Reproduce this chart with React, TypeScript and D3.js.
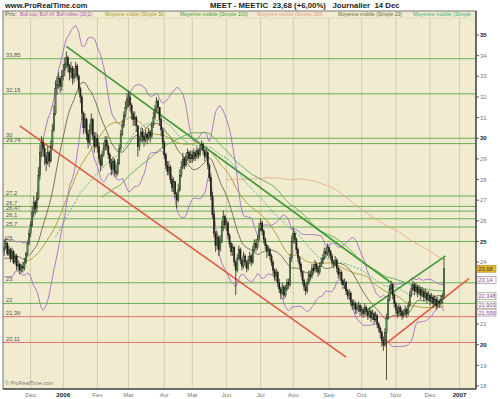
import React from 'react';
import * as d3 from 'd3';

// MEET - MEETIC, daily, 8 Nov 2005 -> 14 Dec 2006 (open = previous close)
// closes before the visible window, only used for the indicators
const historyCloses = [
  23.2, 23.5, 23.9, 24.3, 24.0, 23.6, 23.4, 23.8, 24.2, 24.6, 24.4, 24.1,
  23.7, 23.3, 23.0, 23.4, 23.8, 24.2, 24.5, 24.8, 24.4, 24.0, 23.6, 23.3,
  23.6, 24.0, 24.3, 24.7, 24.4, 24.1, 23.8, 23.5, 23.9, 24.3, 24.6, 24.5,
];

const closes = [
  24.7, 24.9, 24.4, 24.6, 24.2, 24.5, 24.0, 24.3, 23.8, 23.9, 23.6, 23.8, 23.7, 24.0, 24.4, 24.9, 25.4, // nov
  25.8, 26.4, 26.9, 26.6, 27.1, 28.2, 29.3, 29.8, 29.5, 29.1, 28.8, 29.3, 28.9, 29.6, 30.4, 31.2, 32.4, 32.6, 32.9, 32.5, 33.0, // dec
  33.3, 33.6, 33.9, 33.5, 33.2, 33.4, 32.9, 33.1, 33.5, 33.0, 32.4, 32.0, 31.2, 30.5, 30.9, 30.2, 29.8, 30.4, 30.9, 30.1, 29.6, 30.0, // jan
  29.6, 29.0, 28.7, 29.2, 29.5, 29.9, 29.6, 29.2, 28.8, 28.5, 28.9, 28.4, 28.3, 28.8, 29.5, 30.2, 30.6, 31.1, 31.5, 31.9, // feb
  32.0, 31.6, 31.2, 30.9, 31.0, 30.6, 29.6, 29.9, 30.3, 30.1, 29.9, 30.2, 30.0, 30.3, 30.1, 30.6, 31.0, 31.4, 31.8, 31.5, 30.9, 30.4, 29.8, // mar
  29.2, 28.7, 28.4, 28.6, 28.0, 27.6, 27.9, 27.3, 27.0, 27.5, 28.2, 28.6, 29.0, 28.7, 29.1, 29.3, 29.0, 29.2, // apr
  29.0, 29.3, 29.1, 29.4, 29.2, 29.5, 29.7, 29.4, 29.1, 29.3, 28.7, 28.1, 27.2, 26.3, 25.4, 24.8, 25.2, 24.6, 25.0, 25.7, 26.2, 25.8, // may
  25.9, 25.3, 24.9, 24.5, 24.7, 24.0, 23.6, 24.2, 24.6, 24.1, 23.8, 24.3, 24.0, 23.7, 24.1, 24.3, 24.0, 24.6, 24.9, 24.7, 25.1, 25.6, // jun
  25.9, 25.5, 25.1, 24.8, 24.5, 24.6, 24.3, 24.0, 23.6, 23.3, 23.5, 23.0, 22.7, 22.5, 22.8, 22.4, 22.7, 23.0, 22.9, 24.2, 25.0, // jul
  25.4, 25.1, 24.6, 24.2, 23.9, 23.5, 23.1, 22.8, 22.6, 23.0, 23.4, 23.3, 23.7, 23.6, 23.9, 23.7, 23.5, 23.8, 24.0, 24.2, 24.5, 24.4, 24.7, // aug
  24.5, 24.3, 24.0, 23.9, 24.1, 23.7, 23.4, 23.5, 23.1, 22.9, 23.0, 22.6, 22.4, 22.5, 22.1, 21.9, 22.0, 21.7, 21.8, 21.9, 21.6, // sep
  21.7, 21.5, 21.8, 21.6, 21.4, 21.6, 21.3, 21.5, 21.2, 21.4, 21.0, 20.8, 20.6, 20.2, 20.0, 20.6, 21.3, 22.2, 22.7, 22.9, 22.4, 22.0, // oct
  21.7, 21.5, 21.8, 21.6, 21.4, 21.5, 21.7, 21.5, 21.9, 22.4, 22.7, 22.9, 22.6, 22.8, 22.5, 22.7, 22.4, 22.6, 22.3, 22.5, 22.2, 22.4, // nov
  22.1, 22.3, 22.0, 22.2, 21.9, 22.1, 22.0, 22.2, 22.34, 23.68, // dec
];

const highs = [
  25.1, 25.2, 25.0, 24.8, 24.7, 24.7, 24.6, 24.4, 24.4, 24.1, 24.0, 23.9, 24.0, 24.2, 24.5, 25.0, 25.6,
  26.0, 26.7, 27.2, 27.0, 27.4, 28.6, 29.7, 30.1, 30.0, 29.7, 29.3, 29.6, 29.4, 29.9, 30.7, 31.6, 32.8, 33.0, 33.2, 33.0, 33.3,
  33.6, 33.9, 34.2, 34.0, 33.6, 33.7, 33.5, 33.4, 33.7, 33.6, 33.1, 32.5, 32.1, 31.3, 31.2, 31.0, 30.4, 30.7, 31.2, 31.0, 30.3, 30.3,
  30.2, 29.8, 29.2, 29.4, 29.8, 30.1, 30.1, 29.7, 29.3, 29.0, 29.1, 29.0, 28.7, 29.0, 29.7, 30.4, 30.9, 31.3, 31.8, 32.2,
  32.3, 32.2, 31.7, 31.3, 31.3, 31.1, 30.6, 30.1, 30.5, 30.5, 30.3, 30.4, 30.3, 30.5, 30.4, 30.8, 31.3, 31.6, 32.0, 31.9, 31.5, 31.0, 30.5,
  29.9, 29.3, 28.9, 28.9, 28.7, 28.2, 28.1, 27.9, 27.4, 27.8, 28.5, 28.9, 29.3, 29.1, 29.3, 29.5, 29.4, 29.4,
  29.4, 29.5, 29.4, 29.6, 29.5, 29.7, 29.9, 29.8, 29.5, 29.5, 29.4, 28.8, 28.3, 27.4, 26.5, 25.5, 25.5, 25.3, 25.3, 26.0, 26.5, 26.3,
  26.1, 26.0, 25.4, 25.0, 24.9, 24.8, 24.1, 24.4, 24.8, 24.7, 24.2, 24.5, 24.4, 24.1, 24.3, 24.5, 24.4, 24.8, 25.1, 25.1, 25.3, 25.9,
  26.1, 26.0, 25.6, 25.2, 24.9, 24.8, 24.7, 24.4, 24.1, 23.7, 23.7, 23.6, 23.2, 22.8, 23.0, 22.9, 22.9, 23.2, 23.2, 24.4, 25.3,
  25.7, 25.5, 25.2, 24.7, 24.3, 24.0, 23.6, 23.2, 23.0, 23.2, 23.6, 23.6, 23.9, 23.9, 24.1, 24.0, 23.8, 24.0, 24.2, 24.4, 24.7, 24.7, 24.9,
  24.8, 24.6, 24.4, 24.1, 24.3, 24.2, 23.8, 23.7, 23.6, 23.2, 23.2, 23.1, 22.7, 22.7, 22.6, 22.2, 22.2, 22.1, 22.0, 22.1, 22.0,
  21.9, 21.8, 22.0, 21.9, 21.7, 21.8, 21.7, 21.7, 21.6, 21.6, 21.5, 21.1, 20.9, 20.7, 20.4, 20.8, 21.5, 22.4, 22.9, 23.1, 23.0, 22.5,
  22.1, 21.9, 22.0, 21.9, 21.7, 21.7, 21.9, 21.8, 22.1, 22.6, 22.9, 23.1, 23.0, 23.0, 22.9, 22.9, 22.8, 22.8, 22.7, 22.7, 22.6, 22.6,
  22.5, 22.5, 22.4, 22.4, 22.3, 22.3, 22.2, 22.4, 22.5, 24.2,
];

const lows = [
  24.3, 24.6, 24.3, 24.3, 24.0, 24.1, 23.9, 23.9, 23.6, 23.6, 23.4, 23.5, 23.5, 23.6, 23.9, 24.3, 24.8,
  25.2, 25.7, 26.2, 26.3, 26.4, 27.0, 28.0, 29.1, 29.1, 28.7, 28.4, 28.7, 28.6, 28.8, 29.5, 30.3, 31.1, 32.1, 32.4, 32.2, 32.3,
  32.8, 33.0, 33.4, 33.2, 32.8, 32.9, 32.6, 32.7, 32.9, 32.8, 32.2, 31.7, 30.9, 30.2, 30.3, 29.9, 29.5, 29.7, 30.2, 29.9, 29.3, 29.5,
  29.3, 28.8, 28.4, 28.6, 29.1, 29.4, 29.4, 29.0, 28.6, 28.2, 28.3, 28.2, 28.1, 28.2, 28.7, 29.4, 30.1, 30.5, 31.0, 31.4,
  31.5, 31.3, 30.9, 30.6, 30.6, 30.3, 29.1, 29.4, 29.8, 29.8, 29.6, 29.8, 29.7, 29.9, 29.8, 30.0, 30.5, 30.9, 31.3, 31.2, 30.6, 30.1, 29.5,
  29.0, 28.5, 28.2, 28.2, 27.8, 27.4, 27.4, 27.1, 26.6, 26.9, 27.4, 28.1, 28.5, 28.5, 28.6, 28.9, 28.8, 28.8,
  28.8, 28.9, 28.9, 29.0, 29.0, 29.1, 29.4, 29.2, 28.9, 29.0, 28.5, 27.9, 27.0, 26.1, 25.2, 24.5, 24.6, 24.3, 24.5, 24.9, 25.5, 25.6,
  25.5, 25.1, 24.7, 24.3, 24.3, 23.8, 22.4, 23.5, 24.1, 23.9, 23.6, 23.7, 23.8, 23.5, 23.6, 23.9, 23.8, 23.9, 24.5, 24.5, 24.6, 25.0,
  25.5, 25.3, 24.9, 24.6, 24.2, 24.3, 24.1, 23.8, 23.4, 23.1, 23.1, 22.8, 22.5, 22.2, 22.4, 22.2, 22.3, 22.6, 22.7, 22.8, 24.0,
  24.9, 24.9, 24.4, 24.0, 23.7, 23.3, 22.9, 22.6, 22.4, 22.5, 22.9, 23.1, 23.2, 23.4, 23.5, 23.5, 23.3, 23.4, 23.8, 23.9, 24.1, 24.2, 24.3,
  24.2, 24.1, 23.8, 23.7, 23.8, 23.5, 23.2, 23.2, 22.9, 22.7, 22.7, 22.4, 22.2, 22.2, 21.9, 21.7, 21.7, 21.5, 21.5, 21.6, 21.4,
  21.4, 21.3, 21.4, 21.4, 21.2, 21.3, 21.1, 21.2, 21.0, 21.1, 20.8, 20.6, 20.3, 19.9, 19.7, 19.9, 18.3, 21.2, 22.1, 22.5, 22.2, 21.8,
  21.5, 21.3, 21.4, 21.4, 21.2, 21.3, 21.4, 21.3, 21.4, 21.8, 22.3, 22.6, 22.4, 22.5, 22.3, 22.4, 22.2, 22.3, 22.1, 22.2, 22.0, 22.1,
  21.9, 22.0, 21.8, 21.9, 21.7, 21.8, 21.8, 21.9, 22.0, 22.2,
];

const holidays = ['2005-12-26', '2006-04-14', '2006-04-17', '2006-05-01', '2006-12-25', '2006-12-26', '2007-01-01'];
const monthLabels = ['Jan', 'Fev', 'Mar', 'Avr', 'Mai', 'Jun', 'Jul', 'Aou', 'Sep', 'Oct', 'Nov', 'Dec'];

const greenLevels = [33.85, 32.15, 30, 29.74, 27.2, 26.7, 26.47, 26.1, 25.7, 25, 23, 22];
const redLevels = [21.36, 20.11];

// trend lines: [date, price] -> [date, price]
const greenTrends = [
  [['2006-01-04', 34.45], ['2006-10-27', 23.0]],
  [['2006-10-05', 21.65], ['2006-12-15', 24.3]],
];
const redTrends = [
  [['2005-11-22', 30.6], ['2006-09-18', 19.4]],
  [['2006-10-20', 19.95], ['2007-01-10', 23.2]],
];

const priceTags = [
  { value: 23.68, text: '23,68', fill: '#e8b830', stroke: '#b08a20', color: '#333' },
  { value: 23.14, text: '23,14', fill: '#fbf8ee', stroke: '#9a70b0', color: '#8a50a8' },
  { value: 22.348, text: '22,348', fill: '#fbf8ee', stroke: '#8a9a70', color: '#8a50a8' },
  { value: 21.903, text: '21,903', fill: '#fbf8ee', stroke: '#7aa070', color: '#8a50a8' },
  { value: 21.556, text: '21,556', fill: '#fbf8ee', stroke: '#9a70b0', color: '#8a50a8' },
];

const legendItems = [
  { text: 'Prix:', color: '#555' },
  { text: 'Boll sup: Boll inf: Boll milieu (20;2)', color: '#b050b0' },
  { text: 'Moyenne mobile (Simple 50)', color: '#a89a30' },
  { text: 'Moyenne mobile (Simple 100)', color: '#40a040' },
  { text: 'Moyenne mobile (Simple 180)', color: '#e89a80' },
  { text: 'Moyenne mobile (Simple 20)', color: '#6a6a3a' },
  { text: 'Moyenne mobile (Simple', color: '#40b088' },
];
// legend layout: start x and drawn width of each entry
const legendX = [5, 20, 105, 180, 257, 338, 413];
const legendW = [12, 72, 60, 68, 66, 64, 58];

const fmt = (v: number) => String(v).replace('.', ',');

function tradingDays(from: Date, to: Date) {
  const off = new Set(holidays);
  return d3.timeDay.range(from, to).filter(d => {
    const wd = d.getDay();
    return wd !== 0 && wd !== 6 && !off.has(d3.timeFormat('%Y-%m-%d')(d));
  });
}

function sma(values: number[], n: number) {
  return values.map((_, i) => (i < n - 1 ? null : d3.mean(values.slice(i - n + 1, i + 1)) as number));
}

function bollinger(values: number[], n: number, k: number) {
  return values.map((_, i) => {
    if (i < n - 1) return null;
    const w = values.slice(i - n + 1, i + 1);
    const m = d3.mean(w) as number;
    const sd = Math.sqrt(d3.mean(w, v => (v - m) * (v - m)) as number);
    return { up: m + k * sd, lo: m - k * sd, mid: m };
  });
}

export default function App() {
  const width = 500, height = 399;
  const left = 3, right = 476, top = 11, plotTop = 18, bottom = 389;

  const calendar = tradingDays(new Date(2005, 10, 8), new Date(2007, 0, 20));
  const idxOf = (s: string) => {
    const t = d3.timeParse('%Y-%m-%d')(s) as Date;
    return d3.bisectLeft(calendar.map(d => +d), +t);
  };

  const x = d3.scaleLinear().domain([0, closes.length - 1]).range([4.2, 444]);
  const y = d3.scaleLinear().domain([18, 35]).range([386, 35]);

  const bars = closes.map((c, i) => ({
    i,
    open: i === 0 ? historyCloses[historyCloses.length - 1] : closes[i - 1],
    close: c,
    high: highs[i],
    low: lows[i],
  }));

  const all = historyCloses.concat(closes);
  const h = historyCloses.length;
  const series = (arr: (number | null)[]) => arr.slice(h).map((v, i) => ({ i, v }));
  const boll = bollinger(all, 20, 2).slice(h);
  const line = d3.line<{ i: number; v: number | null }>()
    .defined(d => d.v != null)
    .x(d => x(d.i))
    .y(d => y(d.v as number));

  const mas = [
    { n: 180, color: '#e8a890', dash: '' },
    { n: 100, color: '#50a850', dash: '' },
    { n: 70, color: '#40b088', dash: '2,1.5' },
    { n: 50, color: '#a89a30', dash: '' },
    { n: 20, color: '#6a6a48', dash: '' },
  ];

  // month ticks = first trading day of each month
  const ticks: { i: number; label: string; bold: boolean }[] = [];
  calendar.forEach((d, i) => {
    if (i === 0) return;
    if (d.getMonth() !== calendar[i - 1].getMonth()) {
      const jan = d.getMonth() === 0;
      ticks.push({ i, label: jan ? String(d.getFullYear()) : monthLabels[d.getMonth()], bold: jan });
    }
  });
  const visibleTicks = ticks.filter(t => x(t.i) < right);

  // axis labels hidden behind the last-value tags
  const yTicks = d3.range(18, 36).filter(v => !priceTags.some(p => Math.abs(y(p.value) - y(v)) < 6));
  const ff = 'Arial, "Liberation Sans", sans-serif';

  return (
    <svg width={width} height={height} style={{ position: 'fixed', left: 0, top: 0, background: '#fff' }}
      fontFamily={ff}>
      <defs>
        <clipPath id="plot">
          <rect x={left} y={plotTop} width={right - left} height={bottom - plotTop} />
        </clipPath>
      </defs>

      {/* header */}
      <text x={5} y={8} fontSize={7.5} fontWeight="bold" fill="#222">www.ProRealTime.com</text>
      <text x={210} y={8} fontSize={7.8} fontWeight="bold" fill="#222">
        MEET - MEETIC{'\u00a0\u00a0'}23,68 (+6,00%){'\u00a0\u00a0\u00a0'}Journalier{'\u00a0\u00a0'}14 Dec
      </text>

      {/* plot background */}
      <rect x={left} y={top} width={right - left} height={bottom - top} fill="#f1ebcf" />

      {/* legend row */}
      {legendItems.map((it, k) => (
        <text key={k} x={legendX[k]} y={16.3} fontSize={5.6} fill={it.color}
          textLength={legendW[k]} lengthAdjust="spacingAndGlyphs">{it.text}</text>
      ))}
      <line x1={left} x2={right} y1={plotTop} y2={plotTop} stroke="#d8d2b8" strokeWidth={0.6} />

      {/* vertical month grid */}
      {visibleTicks.map(t => (
        <line key={t.i} x1={x(t.i)} x2={x(t.i)} y1={plotTop} y2={bottom} stroke="#c9c6ad" strokeWidth={0.8} />
      ))}

      <g clipPath="url(#plot)">
        {/* horizontal levels */}
        {greenLevels.map(v => (
          <line key={'g' + v} x1={left} x2={right} y1={y(v)} y2={y(v)} stroke="#6cae52" strokeWidth={1} />
        ))}
        {redLevels.map(v => (
          <line key={'r' + v} x1={left} x2={right} y1={y(v)} y2={y(v)} stroke="#e07070" strokeWidth={1} />
        ))}

        {/* indicators */}
        <path d={line(boll.map((b, i) => ({ i, v: b ? b.up : null }))) || ''} fill="none" stroke="#a66cc6" strokeWidth={0.9} />
        <path d={line(boll.map((b, i) => ({ i, v: b ? b.lo : null }))) || ''} fill="none" stroke="#a66cc6" strokeWidth={0.9} />
        {mas.map(m => (
          <path key={m.n} d={line(series(sma(all, m.n))) || ''} fill="none" stroke={m.color}
            strokeWidth={0.9} strokeDasharray={m.dash} />
        ))}

        {/* trend lines */}
        {greenTrends.map((t, k) => (
          <line key={'gt' + k} x1={x(idxOf(t[0][0] as string))} y1={y(t[0][1] as number)}
            x2={x(idxOf(t[1][0] as string))} y2={y(t[1][1] as number)} stroke="#3e9a36" strokeWidth={1.6} />
        ))}
        {redTrends.map((t, k) => (
          <line key={'rt' + k} x1={x(idxOf(t[0][0] as string))} y1={y(t[0][1] as number)}
            x2={x(idxOf(t[1][0] as string))} y2={y(t[1][1] as number)} stroke="#e05a46" strokeWidth={1.6} />
        ))}

        {/* candles */}
        {bars.map(b => {
          const up = b.close >= b.open;
          const yTop = y(Math.max(b.open, b.close));
          const yBot = y(Math.min(b.open, b.close));
          return (
            <g key={b.i}>
              <line x1={x(b.i)} x2={x(b.i)} y1={y(b.high)} y2={y(b.low)} stroke="#2a2a22" strokeWidth={0.8} />
              <rect x={x(b.i) - 0.7} y={yTop} width={1.4} height={Math.max(0.8, yBot - yTop)}
                fill={up ? '#4e8a4a' : '#1e1e1a'} stroke="#1e1e1a" strokeWidth={0.3} />
            </g>
          );
        })}
      </g>

      {/* level labels */}
      {greenLevels.concat(redLevels).map(v => (
        <text key={'l' + v} x={6} y={y(v) - 1.5} fontSize={5.8} fill="#555">{fmt(v)}</text>
      ))}
      <text x={5} y={385} fontSize={5.4} fill="#777">© ProRealTime.com</text>

      {/* frame & axes */}
      <rect x={left} y={top} width={right - left} height={bottom - top} fill="none" stroke="#555" strokeWidth={0.8} />
      <line x1={right} x2={right} y1={top} y2={bottom} stroke="#222" strokeWidth={1} />
      <line x1={left} x2={right} y1={bottom} y2={bottom} stroke="#222" strokeWidth={1} />

      {yTicks.map(v => (
        <g key={'yt' + v}>
          <line x1={right} x2={right + 3} y1={y(v)} y2={y(v)} stroke="#333" strokeWidth={0.8} />
          <text x={right + 4} y={y(v) + 2.2} fontSize={6} fill={v % 5 === 0 ? '#222' : '#777'}
            fontWeight={v % 5 === 0 ? 'bold' : 'normal'}>{v}</text>
        </g>
      ))}

      {visibleTicks.map(t => (
        <text key={'xt' + t.i} x={x(t.i)} y={397} fontSize={6.2} textAnchor="middle"
          fill={t.bold ? '#222' : '#777'} fontWeight={t.bold ? 'bold' : 'normal'}>{t.label}</text>
      ))}

      {/* last values */}
      {priceTags.map(p => (
        <g key={p.text}>
          <rect x={right + 1} y={y(p.value) - 3.5} width={19} height={7} fill={p.fill} stroke={p.stroke} strokeWidth={0.6} />
          <text x={right + 2.5} y={y(p.value) + 2} fontSize={5.6} fill={p.color}>{p.text}</text>
        </g>
      ))}
    </svg>
  );
}
